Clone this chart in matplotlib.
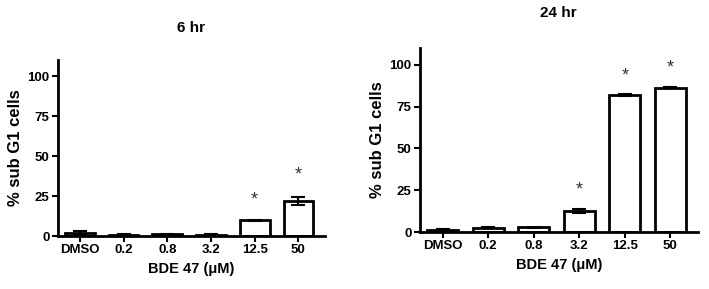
import matplotlib
matplotlib.use("Agg")
import matplotlib.pyplot as plt
import numpy as np

plt.rcParams["font.family"] = ["Liberation Sans", "DejaVu Sans"]
plt.rcParams["font.weight"] = "bold"

doses = ["DMSO", "0.2", "0.8", "3.2", "12.5", "50"]

vals_6h = [2.0, 1.0, 1.2, 1.0, 10.0, 22.0]
err_6h = [1.0, 0.3, 0.3, 0.3, 0.3, 2.5]
stars_6h = [None, None, None, None, 25.5, 41.0]

vals_24h = [1.5, 2.5, 3.0, 12.5, 81.7, 86.3]
err_24h = [0.5, 0.3, 0.3, 1.0, 0.5, 0.3]
stars_24h = [None, None, None, 28.0, 96.0, 101.0]

yticks = [0, 25, 50, 75, 100]


def panel(ax, vals, errs, stars, title, title_pad):
    x = np.arange(len(doses))
    ax.bar(x, vals, width=0.68, color="white", edgecolor="black", linewidth=2)
    ax.errorbar(x, vals, yerr=errs, fmt="none", ecolor="black", elinewidth=1.5,
                capsize=5, capthick=1.5)
    for xi, s in zip(x, stars):
        if s is not None:
            # asterisk glyph sits high in its box, nudge down
            ax.text(xi, s - 3, "*", ha="center", va="center", fontsize=13,
                    color="#333333", fontweight="normal")
    ax.set_xlim(-0.5, 5.6)
    ax.set_ylim(0, 110)
    ax.set_yticks(yticks)
    ax.set_xticks(x)
    ax.set_xticklabels(doses)
    for sp in ("top", "right"):
        ax.spines[sp].set_visible(False)
    for sp in ("left", "bottom"):
        ax.spines[sp].set_linewidth(2)
    ax.tick_params(axis="both", width=1.5, length=4, labelsize=9.5, pad=2)
    ax.set_ylabel("% sub G1 cells", fontsize=12, fontweight="bold", labelpad=3)
    ax.set_xlabel("BDE 47 (\u03bcM)", fontsize=10.5, fontweight="bold", labelpad=4)
    ax.set_title(title, fontsize=11, fontweight="bold", pad=title_pad)


fig = plt.figure(figsize=(7.09, 2.89), dpi=100)
ax1 = fig.add_axes([0.0818, 0.183, 0.376, 0.609])
ax2 = fig.add_axes([0.592, 0.197, 0.392, 0.637])

panel(ax1, vals_6h, err_6h, stars_6h, "6 hr", 20)
panel(ax2, vals_24h, err_24h, stars_24h, "24 hr", 22)

fig.savefig("out.png", dpi=100)
